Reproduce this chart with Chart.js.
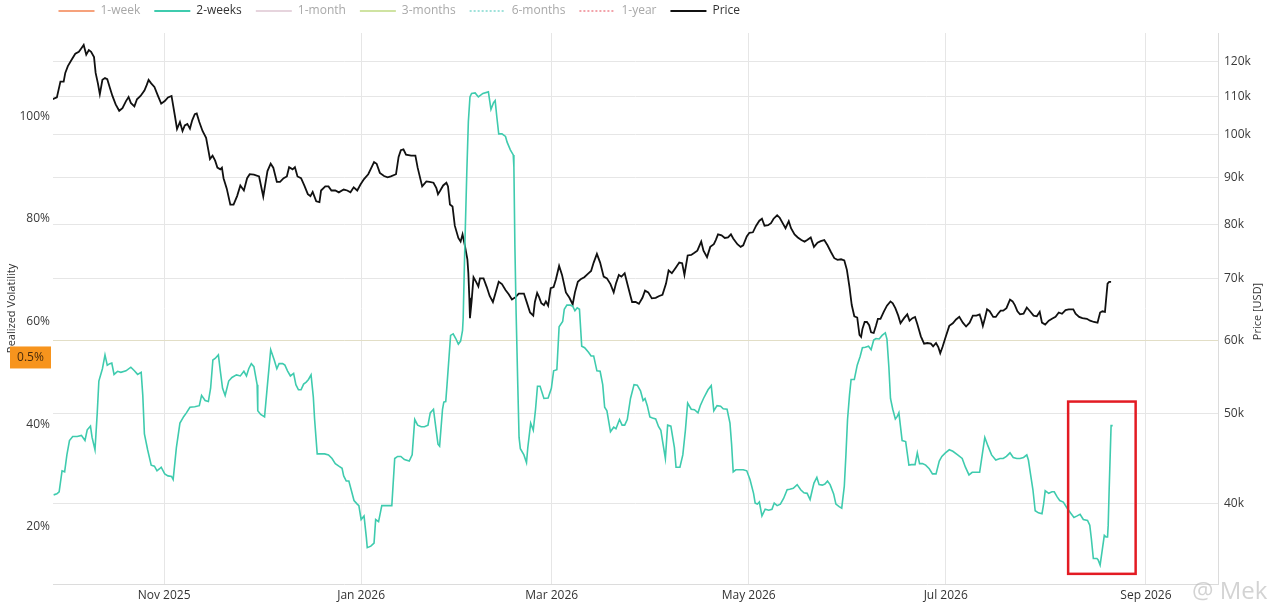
<!DOCTYPE html>
<html>
<head>
<meta charset="utf-8">
<script src="https://cdn.jsdelivr.net/npm/chart.js@4.4.1/dist/chart.umd.min.js"></script>
<style>
html,body{margin:0;padding:0;background:#fff}
#wrap{width:1280px;height:614px;position:relative}
</style>
</head>
<body>
<div id="wrap"><canvas id="c"></canvas></div>
<script>
// ---- series / legend ----
const seriesNames  = ['1-week','2-weeks','1-month','3-months','6-months','1-year','Price'];
const seriesColors = ['#f6a27c','#3fcbae','#e6d4dd','#cfe3a2','#9fe2da','#f2a3aa','#111111'];
const seriesDashed = [false,false,false,false,true,true,false];
const activeSeries = ['2-weeks','Price'];

// ---- axes ----
const dateOrigin  = '2025-11-01';   // day offsets below are counted from this date
const xRangeDays  = [-34.4, 326.3];
const xTickDates  = ['2025-11-01','2026-01-01','2026-03-01','2026-05-01','2026-07-01','2026-09-01'];
const xTickLabels = ['Nov 2025','Jan 2026','Mar 2026','May 2026','Jul 2026','Sep 2026'];
const volRange    = [8.82, 116.28];
const volTicks    = [20,40,60,80,100];
const priceRangeK = [32.725, 128.88];
const priceTicksK = [40,50,60,70,80,90,100,110,120];

// ---- Price (thousand USD) ----
const priceDays = [-34.5,-33.2,-32.1,-31.1,-30.6,-29.8,-28.5,-27.5,-26.4,-25.6,-24.9,-24.1,-23.3,-22.6,-21.7,-21.2,-20.5,-19.9,-19.1,-18.3,-17.6,-16.7,-16.0,-15.0,-13.9,-12.9,-11.8,-11.0,-10.3,-9.2,-8.4,-7.3,-6.1,-5.4,-4.8,-4.0,-3.0,-1.9,-0.9,0.2,1.2,2.3,3.3,4.0,4.9,5.7,6.4,7.2,8.0,8.7,9.5,10.1,10.9,11.9,13.0,13.7,14.2,15.0,15.8,16.5,17.4,17.9,18.4,19.4,20.5,21.5,22.6,23.6,24.7,25.7,26.5,27.8,29.4,30.7,31.1,32.0,33.0,33.8,34.9,35.9,37.0,38.0,38.7,39.8,40.5,41.3,42.4,43.4,44.5,45.3,46.0,47.1,48.1,48.6,
49.9,50.9,51.8,53.0,54.1,55.6,56.7,57.7,58.7,59.8,60.8,61.9,63.2,64.0,65.0,65.8,66.8,68.1,69.2,70.2,71.8,72.6,73.3,74.1,74.9,76.5,77.8,78.5,79.9,81.2,82.2,83.4,84.3,84.8,85.5,86.4,87.4,87.9,88.5,89.3,90.0,91.1,91.8,92.4,93.1,93.9,94.2,94.5,94.7,95.2,95.8,96.6,97.3,97.8,98.9,99.9,100.8,101.8,102.5,103.6,104.6,105.7,106.7,107.7,108.8,109.8,111.4,112.2,113.3,114.3,114.8,115.5,116.1,116.8,117.6,118.2,118.9,119.7,120.6,121.3,122.3,123.2,124.4,125.5,126.5,127.2,128.1,129.1,130.1,131.2,132.2,
133.0,134.0,135.0,136.1,137.1,138.2,139.2,139.9,140.8,141.6,142.6,143.4,144.4,144.9,146.0,147.0,148.1,148.9,149.9,151.0,152.2,153.3,154.3,155.4,156.2,157.2,158.3,159.5,160.4,161.1,162.1,163.2,164.2,165.1,166.3,167.0,168.1,169.1,170.2,170.8,171.5,172.6,173.6,174.6,175.5,176.2,177.5,178.5,179.3,180.4,181.2,182.3,183.3,184.3,185.1,185.9,187.0,187.9,188.7,189.8,190.6,191.6,192.4,193.4,194.1,195.2,196.2,197.3,198.3,199.1,200.2,201.2,202.3,203.3,204.4,205.4,206.5,207.5,208.5,209.6,210.6,211.4,212.2,212.9,213.7,214.6,215.3,215.8,
216.2,216.9,217.6,218.3,218.9,219.7,220.4,221.0,221.8,222.8,223.8,224.9,225.6,226.4,227.3,228.0,229.1,230.1,230.8,231.7,232.5,233.2,234.3,235.3,236.3,237.4,238.1,239.0,239.7,240.3,241.0,242.1,243.1,244.2,245.2,246.2,247.3,248.3,249.4,250.4,251.5,252.5,253.0,253.5,254.1,254.8,255.6,256.7,257.5,258.2,259.0,259.8,260.8,261.9,262.7,263.4,264.2,265.0,266.1,267.1,268.1,269.2,270.2,271.1,271.8,272.8,273.9,274.9,276.0,277.0,278.0,279.1,280.1,281.5,282.2,283.3,284.3,285.7,286.7,287.9,289.0,289.8,290.5,291.3,292.1,292.6,293.2];
const priceK = [109.3,109.8,114.2,114.2,116.7,118.7,120.8,122.4,123.0,124.1,125.1,122.1,123.5,123.0,121.4,116.7,113.7,110.7,114.7,115.2,114.9,112.2,110.2,107.9,106.2,106.9,108.8,109.9,108.3,107.4,109.3,110.2,111.7,113.2,114.7,113.7,112.7,110.2,108.1,108.8,109.8,110.2,105.1,101.5,103.3,101.0,102.4,102.8,101.6,103.7,105.3,105.5,103.3,101.0,99.3,96.3,94.2,95.0,93.8,92.2,91.8,92.2,89.8,87.5,84.1,84.1,85.9,88.2,87.1,89.8,90.7,90.6,90.2,85.8,87.5,91.4,93.1,92.2,89.0,89.0,89.8,90.2,92.3,91.8,92.3,90.2,89.8,88.2,86.3,85.9,86.8,84.8,84.6,87.1,
88.0,88.0,87.1,87.1,86.7,87.3,87.1,86.7,87.8,87.1,88.4,89.6,90.7,91.9,93.5,93.1,91.0,90.3,90.0,90.2,90.7,94.7,96.3,96.5,95.2,95.0,95.0,92.2,88.0,89.1,89.0,88.8,87.6,86.3,87.1,88.2,88.8,88.0,84.1,83.7,79.8,77.4,76.7,78.1,76.0,73.4,70.9,66.7,63.4,66.1,70.2,69.4,68.6,70.0,70.0,68.5,67.0,66.0,67.3,69.4,69.0,68.0,67.3,66.4,66.8,67.4,67.4,66.1,64.3,63.8,66.0,67.5,66.8,65.8,65.5,66.1,65.4,68.3,68.5,69.8,72.2,70.6,67.6,66.7,65.6,67.6,69.4,69.9,70.2,70.8,71.3,
72.8,74.4,72.8,70.3,70.0,69.0,67.6,69.1,70.6,70.3,70.9,69.1,67.0,66.0,66.0,65.7,66.7,67.9,67.6,66.6,66.7,67.0,67.2,69.1,71.4,70.9,71.8,72.8,72.7,70.6,74.1,74.2,74.6,75.0,76.7,75.0,73.8,75.7,76.2,77.0,78.1,77.9,77.4,77.5,78.1,77.3,76.2,75.7,76.0,77.7,78.4,78.5,79.8,80.8,81.2,79.8,79.9,80.3,81.2,81.9,81.4,80.2,79.3,80.7,79.3,78.1,77.5,77.0,76.7,77.0,77.5,75.7,76.5,76.8,77.0,76.0,74.7,73.6,73.3,73.4,73.2,71.5,68.5,65.5,63.7,63.5,60.8,60.5,
61.7,62.8,62.8,62.3,61.2,61.1,62.2,63.3,63.3,64.4,65.4,66.1,65.8,65.0,63.8,62.6,63.4,64.0,63.0,63.4,63.6,62.5,60.6,59.5,59.6,59.5,59.1,59.6,59.0,58.1,59.0,60.7,62.2,62.6,63.2,63.6,62.7,62.1,62.7,63.8,63.8,64.0,63.2,62.2,63.3,64.8,64.5,63.6,63.6,64.1,64.6,64.6,65.0,66.4,66.1,65.5,64.5,64.0,64.1,65.1,64.5,63.8,63.7,64.4,62.7,62.4,63.0,63.3,63.6,64.3,64.1,64.7,64.8,64.8,64.1,63.6,63.4,63.3,63.0,62.8,62.7,64.3,64.5,64.4,69.1,69.4,69.4];

// ---- 2-weeks realized volatility (%) ----
const volDays = [-34.2,-33.2,-32.5,-31.6,-30.8,-30.1,-29.3,-28.3,-26.9,-25.6,-24.5,-23.8,-22.8,-22.3,-21.4,-20.7,-20.2,-19.1,-18.3,-17.6,-16.8,-16.2,-15.5,-14.4,-13.4,-11.8,-10.3,-9.2,-8.2,-7.1,-6.6,-6.1,-5.1,-4.0,-3.0,-2.2,-1.4,-0.9,0.2,1.2,2.3,2.8,3.8,4.9,6.1,6.9,8.0,9.5,10.9,11.6,12.7,13.7,14.4,15.1,15.8,16.8,17.4,18.1,18.9,20.0,21.0,22.4,23.6,24.7,25.5,26.2,27.0,27.8,28.8,29.0,29.9,31.1,32.0,33.0,34.1,34.9,35.6,36.7,37.4,38.2,39.1,40.1,40.8,41.6,42.4,43.2,44.0,44.7,45.5,46.2,46.6,47.4,48.4,
49.7,50.9,52.0,53.0,54.1,55.1,55.6,56.4,57.2,58.0,58.8,59.8,60.3,61.0,61.9,62.6,62.9,64.0,65.0,65.5,66.4,67.4,68.4,69.7,70.5,71.4,72.3,73.3,74.4,75.9,76.8,77.6,78.5,79.6,80.6,81.7,82.4,83.4,84.3,84.8,85.3,86.2,86.6,87.2,87.6,88.7,89.5,90.3,91.1,91.8,92.4,92.6,93.1,93.7,94.2,94.7,95.2,96.3,97.3,98.7,100.4,101.2,102.0,102.5,103.0,103.6,104.6,105.7,106.2,107.2,108.1,108.3,108.6,109.0,109.5,109.9,110.3,111.4,112.2,112.6,113.5,114.3,115.0,115.6,116.4,117.6,118.9,119.9,120.6,121.6,122.3,123.4,123.9,124.7,125.8,126.5,127.2,127.9,128.6,129.3,130.2,131.4,132.2,
133.0,134.0,135.0,135.8,136.4,137.1,138.2,139.2,139.9,141.0,141.8,142.6,143.4,144.4,145.5,146.5,147.5,148.3,148.9,149.6,150.4,151.2,152.2,153.1,153.8,154.3,155.2,155.9,156.9,158.0,158.5,159.7,160.6,161.4,162.1,163.2,164.2,165.3,166.0,167.0,168.4,169.4,170.2,171.2,172.3,173.1,174.3,175.2,175.7,176.2,177.0,178.3,179.3,180.4,181.4,182.5,183.0,183.7,184.3,185.1,186.1,187.2,188.2,188.9,189.8,190.8,191.8,192.9,193.7,194.8,196.0,197.1,198.1,199.1,200.0,200.7,201.2,202.1,202.8,203.8,204.6,205.4,206.2,207.3,208.0,209.0,209.8,210.6,211.1,211.6,212.2,212.7,213.7,214.6,
215.5,216.2,217.1,218.1,218.9,219.7,220.4,221.4,222.3,223.3,223.8,224.4,224.9,225.6,226.4,227.0,227.5,228.0,228.5,229.6,230.6,231.4,232.5,233.2,233.9,234.8,235.8,236.9,237.9,239.0,240.0,240.8,241.9,243.1,244.2,245.7,247.1,248.1,249.2,250.2,251.3,252.5,253.3,254.1,255.1,256.2,257.5,258.8,259.8,260.8,261.9,262.9,264.0,265.0,266.1,267.1,267.6,268.1,269.0,269.7,270.7,271.8,272.3,272.8,273.9,274.9,275.6,276.5,277.3,278.4,279.6,280.6,281.7,282.7,283.6,284.6,285.9,286.6,287.1,287.7,288.8,289.2,289.8,290.5,291.1,291.6,292.1,292.3,292.6,293.2,293.7];
const volPct = [26.2,26.4,26.8,30.9,30.7,34.0,36.8,37.6,37.6,37.8,36.8,38.9,39.6,37.4,35.0,42.2,48.4,50.8,53.5,51.5,51.8,51.9,49.7,50.3,50.1,50.4,51.1,50.4,49.7,50.1,45.6,38.1,35.0,32.0,31.8,30.9,31.3,31.6,30.3,29.9,29.8,29.2,35.4,40.2,41.5,42.2,43.3,43.4,43.6,45.6,44.6,44.4,47.0,52.5,52.8,53.5,50.4,47.0,45.6,48.4,49.1,49.6,49.4,50.3,49.4,50.8,51.8,51.2,47.7,42.6,41.9,41.4,47.7,54.5,52.5,50.8,51.8,51.8,51.5,50.4,49.4,49.9,47.7,46.7,46.7,47.8,48.2,48.7,49.6,45.3,40.9,34.2,34.2,
34.2,34.0,33.3,32.3,31.8,31.4,29.9,28.9,28.9,27.0,25.1,24.4,24.1,21.4,22.1,18.0,15.9,16.2,16.8,21.4,21.0,24.1,24.1,24.1,24.1,33.3,33.7,33.7,33.1,32.8,34.0,40.9,39.8,39.5,39.5,39.8,42.2,42.9,38.5,36.1,35.7,42.9,44.3,44.4,47.7,57.3,57.6,56.7,55.6,56.2,58.3,60.7,74.4,88.7,99.0,103.8,104.5,104.6,103.8,104.5,104.8,101.4,102.7,103.1,100.0,96.6,96.6,96.1,95.0,93.5,92.5,90.1,75.0,61.4,47.7,37.4,35.2,34.0,32.5,35.4,40.2,38.8,42.9,47.4,47.4,45.0,45.1,47.0,50.4,50.6,59.0,60.0,62.4,63.2,63.2,63.0,62.1,62.7,62.4,55.2,54.9,54.0,53.3,
53.3,50.4,50.3,47.7,43.3,42.6,38.5,39.4,39.1,40.9,39.8,39.8,40.9,45.0,47.7,47.6,46.5,44.6,45.0,43.6,41.4,41.2,41.0,39.5,38.8,36.8,33.3,39.8,39.6,35.4,31.6,31.6,34.0,38.8,44.1,42.9,42.8,42.2,43.6,45.0,46.7,47.5,42.6,43.6,43.5,43.0,42.9,40.2,36.1,30.7,31.1,31.1,31.1,30.9,29.2,26.5,24.6,24.4,24.8,22.1,23.4,23.2,23.4,24.6,24.1,24.4,25.5,27.2,27.3,27.5,28.2,27.2,26.6,26.5,25.3,27.2,28.5,29.6,28.2,28.1,28.3,28.9,28.2,26.4,24.4,23.9,23.6,27.9,34.0,40.9,45.6,48.7,48.7,51.5,
53.2,54.9,55.0,55.2,54.5,56.4,56.7,56.6,57.3,57.8,56.6,51.1,45.0,42.9,41.0,41.5,42.2,39.5,36.8,36.6,32.0,32.1,32.1,34.4,32.3,32.3,32.0,31.3,30.3,30.3,32.8,33.7,34.4,35.0,34.7,34.0,33.3,31.6,30.1,30.6,30.6,30.6,34.0,37.4,35.7,34.0,33.0,33.3,33.3,33.7,34.4,33.5,33.3,33.3,33.5,34.0,33.0,30.9,27.2,23.1,22.7,22.5,24.4,27.0,26.5,26.8,26.8,25.8,25.1,24.8,23.6,22.7,21.8,22.1,22.4,21.4,21.2,20.3,17.6,13.8,13.8,13.5,12.5,15.6,18.3,18.0,18.0,20.3,27.2,39.7,39.7];

// ---- annotations ----
const markerLabel = '0.5%';
const markerVol = 53;
const highlightDays = [279.9, 300.8];
const highlightVol = [10.8, 44.4];
const watermarkText = '@ Mek';

const dayOf = s => (Date.parse(s) - Date.parse(dateOrigin)) / 86400000;

Chart.defaults.font.family = "'Open Sans', sans-serif";
Chart.defaults.font.size = 12;
Chart.defaults.color = '#3a3a3a';

const datasets = seriesNames.map((name, i) => {
  let data = [];
  let axis = 'yVol';
  if (name === '2-weeks') data = volDays.map((d, k) => ({x: d, y: volPct[k]}));
  if (name === 'Price') { data = priceDays.map((d, k) => ({x: d, y: priceK[k]})); axis = 'yPrice'; }
  return {
    label: name, data, yAxisID: axis,
    borderColor: seriesColors[i], backgroundColor: seriesColors[i],
    borderWidth: name === 'Price' ? 1.8 : 1.6,
    borderDash: seriesDashed[i] ? [2, 2] : [],
    pointRadius: 0, tension: 0, fill: false
  };
});

const overlay = {
  id: 'overlay',
  beforeDraw(chart) {
    if (chart.legend) { chart.legend.left = 44.5; chart.legend.top = -9; }
  },
  afterDraw(chart) {
    const ctx = chart.ctx, ca = chart.chartArea, s = chart.scales;
    ctx.save();
    // highlight box
    const x1 = s.x.getPixelForValue(highlightDays[0]), x2 = s.x.getPixelForValue(highlightDays[1]);
    const y1 = s.yVol.getPixelForValue(highlightVol[1]), y2 = s.yVol.getPixelForValue(highlightVol[0]);
    ctx.strokeStyle = '#e31b23'; ctx.lineWidth = 2.5;
    ctx.strokeRect(x1, y1, x2 - x1, y2 - y1);
    // axis titles
    const cy = (ca.top + ca.bottom) / 2;
    ctx.fillStyle = '#333'; ctx.font = "11px 'Open Sans', sans-serif";
    ctx.textAlign = 'center'; ctx.textBaseline = 'middle';
    ctx.save(); ctx.translate(12, cy); ctx.rotate(-Math.PI / 2); ctx.fillText('Realized Volatility', 0, 0); ctx.restore();
    ctx.save(); ctx.translate(1258, cy + 3); ctx.rotate(-Math.PI / 2); ctx.fillText('Price [USD]', 0, 0); ctx.restore();
    // marker label
    const my = s.yVol.getPixelForValue(markerVol);
    ctx.fillStyle = '#f7941d';
    ctx.fillRect(10, my - 11, 41, 22);
    ctx.fillStyle = '#4a2c0c'; ctx.font = "12px 'Open Sans', sans-serif";
    ctx.fillText(markerLabel, 30.5, my + 0.5);
    // watermark
    ctx.fillStyle = 'rgba(175,175,175,0.55)'; ctx.font = "24px 'Open Sans', sans-serif";
    ctx.textAlign = 'left';
    ctx.fillText(watermarkText, 1192, 592);
    ctx.restore();
  }
};

new Chart(document.getElementById('c'), {
  type: 'line',
  data: { datasets },
  plugins: [overlay],
  options: {
    responsive: true, maintainAspectRatio: false, animation: false,
    layout: { padding: 0 },
    plugins: {
      tooltip: { enabled: false },
      legend: {
        position: 'top', align: 'start', maxHeight: 33,
        labels: {
          usePointStyle: true, pointStyleWidth: 36, padding: 14,
          font: { size: 12 },
          generateLabels: () => seriesNames.map((name, i) => ({
            text: name, fillStyle: seriesColors[i], strokeStyle: seriesColors[i],
            lineWidth: 2, lineDash: seriesDashed[i] ? [2, 2] : [], pointStyle: 'line',
            hidden: false, datasetIndex: i,
            fontColor: activeSeries.includes(name) ? '#333' : '#a8a8a8'
          }))
        }
      }
    },
    scales: {
      x: {
        type: 'linear', min: xRangeDays[0], max: xRangeDays[1], bounds: 'data',
        afterBuildTicks: sc => { sc.ticks = xTickDates.map(d => ({ value: dayOf(d) })); },
        afterFit: sc => { sc.height = 30; },
        ticks: { callback: (v, i) => xTickLabels[i], autoSkip: false, maxRotation: 0, padding: 4, color: '#333' },
        grid: { color: '#e6e6e6', drawTicks: false },
        border: { color: '#dcdcdc' }
      },
      yVol: {
        type: 'linear', position: 'left', min: volRange[0], max: volRange[1], bounds: 'data',
        afterBuildTicks: sc => { sc.ticks = volTicks.map(v => ({ value: v })); },
        afterFit: sc => { sc.width = 53; },
        ticks: { callback: v => v + '%', padding: 3, color: '#3a3a3a' },
        grid: { display: false, drawTicks: false },
        border: { display: false }
      },
      yPrice: {
        type: 'logarithmic', position: 'right', min: priceRangeK[0], max: priceRangeK[1], bounds: 'data',
        afterBuildTicks: sc => { sc.ticks = priceTicksK.map(v => ({ value: v })); },
        afterFit: sc => { sc.width = 62; },
        ticks: { callback: v => v + 'k', padding: 6, color: '#3a3a3a' },
        grid: { color: c => (c.tick && c.tick.value === 60) ? '#e2dec6' : '#e6e6e6', drawTicks: false },
        border: { color: '#dcdcdc' }
      }
    }
  }
});
</script>
</body>
</html>
